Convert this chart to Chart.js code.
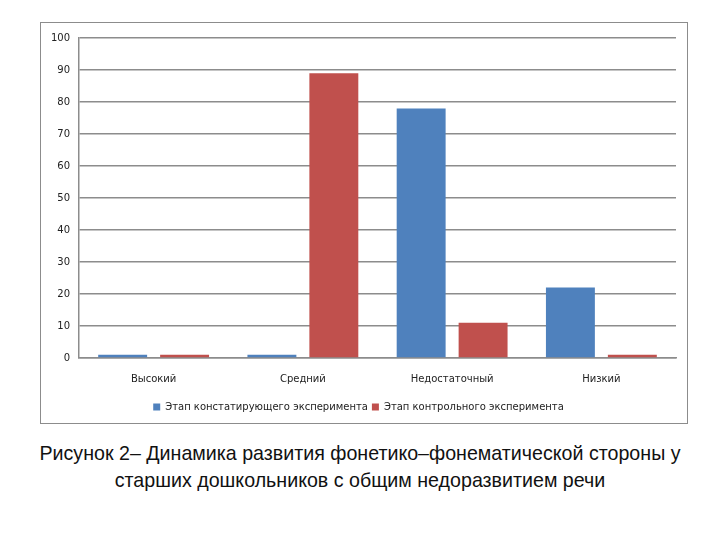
<!DOCTYPE html>
<html>
<head>
<meta charset="utf-8">
<script src="https://cdn.jsdelivr.net/npm/chart.js@4"></script>
<style>
  body { margin: 0; background: #fff; width: 720px; height: 540px; position: relative; }
  #box { position: absolute; left: 40px; top: 22px; width: 646px; height: 400px; border: 1px solid #8c8c8c; }
  #caption { position: absolute; left: 0; top: 439px; width: 720px; text-align: center;
             font-family: "Liberation Sans", Arial, sans-serif;
             font-size: 21px; line-height: 27px; color: #111;
             transform: scaleX(0.935); transform-origin: 360px 0; }
</style>
</head>
<body>
<div id="box"><canvas id="chart" width="646" height="400"></canvas></div>
<div id="caption">Рисунок 2– Динамика развития фонетико–фонематической стороны у<br>старших дошкольников с общим недоразвитием речи</div>
<script>
// categories and series
const categories = ["Высокий", "Средний", "Недостаточный", "Низкий"];
const stageAscertaining = [1, 1, 78, 22];
const stageControl = [1, 89, 11, 1];
const yTicks = [0, 10, 20, 30, 40, 50, 60, 70, 80, 90, 100];

const font = { family: "'DejaVu Sans', sans-serif", size: 10 };

new Chart(document.getElementById("chart"), {
    type: "bar",
    data: {
        labels: categories,
        datasets: [{
            label: "Этап констатирующего эксперимента",
            data: stageAscertaining,
            backgroundColor: "#4f81bd",
            categoryPercentage: 0.83,
            barPercentage: 0.79
        }, {
            label: "Этап контрольного эксперимента",
            data: stageControl,
            backgroundColor: "#c0504d",
            categoryPercentage: 0.83,
            barPercentage: 0.79
        }]
    },
    options: {
        responsive: false,
        animation: false,
        layout: { padding: { top: 12, right: 11, left: 0, bottom: 1 } },
        plugins: {
            legend: {
                position: "bottom",
                labels: { font: font, color: "#222", boxWidth: 7, boxHeight: 7, padding: 4 }
            },
            tooltip: { enabled: false }
        },
        scales: {
            x: {
                afterFit: function(scale) { scale.height -= 2; },
                grid: { display: false, drawTicks: false },
                border: { color: "#8c8c8c", width: 1.5 },
                ticks: { font: font, color: "#222", padding: 15 }
            },
            y: {
                min: 0,
                max: 100,
                afterBuildTicks: function(scale) {
                    scale.ticks = yTicks.map(v => ({ value: v }));
                },
                afterFit: function(scale) { scale.width = 38; },
                grid: { color: "#8c8c8c", lineWidth: 1.5, drawTicks: false },
                border: { color: "#8c8c8c", width: 1.5 },
                ticks: { font: font, color: "#222", padding: 9 }
            }
        }
    }
});
</script>
</body>
</html>
